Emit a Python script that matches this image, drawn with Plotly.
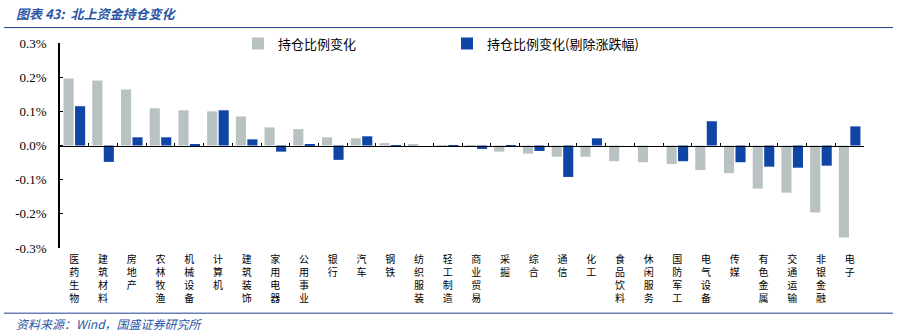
import plotly.graph_objects as go

categories = ["医药生物", "建筑材料", "房地产", "农林牧渔", "机械设备", "计算机", "建筑装饰",
              "家用电器", "公用事业", "银行", "汽车", "钢铁", "纺织服装", "轻工制造",
              "商业贸易", "采掘", "综合", "通信", "化工", "食品饮料", "休闲服务",
              "国防军工", "电气设备", "传媒", "有色金属", "交通运输", "非银金融", "电子"]
holding_change = [0.196, 0.190, 0.164, 0.109, 0.103, 0.100, 0.085, 0.053, 0.048, 0.024,
                  0.021, 0.007, 0.004, -0.004, -0.004, -0.018, -0.024, -0.033, -0.033,
                  -0.046, -0.049, -0.054, -0.072, -0.081, -0.126, -0.138, -0.196, -0.269]
holding_change_adj = [0.115, -0.048, 0.024, 0.024, 0.004, 0.103, 0.018, -0.018, 0.004, -0.042,
                      0.027, -0.004, 0.0, -0.004, -0.010, -0.004, -0.016, -0.092, 0.021,
                      0.0, 0.0, -0.046, 0.071, -0.049, -0.062, -0.065, -0.059, 0.056]
series_names = ["持仓比例变化", "持仓比例变化(剔除涨跌幅)"]
y_ticks = [-0.3, -0.2, -0.1, 0.0, 0.1, 0.2, 0.3]
title_text = "图表 43:  北上资金持仓变化"
source_text = "资料来源：Wind，国盛证券研究所"

W, H = 903, 336
L, R, T, B = 60, 39, 42.5, 87.5
pw, ph = W - L - R, H - T - B

def px_x(X):
    return (X - L) / pw

def px_y(Y):
    return (H - B - Y) / ph

cjk = "Noto Sans CJK SC"
tick_font = "Liberation Serif, Noto Sans CJK SC"
ticktext = ["<br>".join(list(c)) for c in categories]

fig = go.Figure()
fig.add_trace(go.Bar(x=categories, y=holding_change, name=series_names[0],
                     marker=dict(color="#b9c2c2", line=dict(width=0))))
fig.add_trace(go.Bar(x=categories, y=holding_change_adj, name=series_names[1],
                     marker=dict(color="#0f45a5", line=dict(width=0))))
# helper trace for the axis drawn at zero
fig.add_trace(go.Scatter(x=categories, y=[0] * len(categories), xaxis="x2", yaxis="y",
                         mode="markers", marker=dict(opacity=0), showlegend=False,
                         hoverinfo="skip"))

fig.update_layout(
    width=W, height=H,
    margin=dict(l=L, r=R, t=T, b=B),
    paper_bgcolor="white", plot_bgcolor="white",
    barmode="group", bargap=0.2, bargroupgap=0.12,
    font=dict(family=cjk, size=12, color="black"),
    showlegend=True,
    legend=dict(orientation="h", x=px_x(238), y=px_y(43), xanchor="left", yanchor="middle",
                font=dict(family=cjk, size=13, color="black"),
                bgcolor="rgba(0,0,0,0)", entrywidth=164, entrywidthmode="pixels",
                itemwidth=30, tracegroupgap=0),
    xaxis=dict(type="category", tickmode="array", tickvals=categories, ticktext=ticktext,
               showline=False, ticks="", showgrid=False, zeroline=False,
               tickfont=dict(family=tick_font, size=10, color="black"), tickangle=0,
               ticklabelstandoff=4),
    xaxis2=dict(type="category", overlaying="x", anchor="free", position=0.5,
                showline=True, linecolor="black", linewidth=1, ticks="inside",
                tickson="boundaries", ticklen=3, tickcolor="black", showticklabels=False,
                showgrid=False, zeroline=False, range=[-0.5, len(categories) - 0.5]),
    yaxis=dict(range=[-0.3, 0.3], tickmode="array", tickvals=y_ticks,
               ticktext=[f"{v:.1f}%" for v in y_ticks],
               tickfont=dict(family="Liberation Serif", size=13, color="black"),
               showline=True, linecolor="black", linewidth=1.5, ticks="inside", ticklen=3,
               tickcolor="black", showgrid=False, zeroline=False, ticklabelstandoff=9),
)
fig.update_xaxes(range=[-0.5, len(categories) - 0.5], selector=dict(anchor="y"))

fig.add_shape(type="line", xref="paper", yref="paper", x0=px_x(4), x1=px_x(893),
              y0=px_y(27), y1=px_y(27), line=dict(color="#1f3f8f", width=1))
fig.add_shape(type="line", xref="paper", yref="paper", x0=px_x(4), x1=px_x(893),
              y0=px_y(314), y1=px_y(314), line=dict(color="#1f3f8f", width=1))

fig.add_annotation(text=f"<b><i>{title_text}</i></b>", xref="paper", yref="paper",
                   x=px_x(14), y=px_y(13), xanchor="left", yanchor="middle", showarrow=False,
                   font=dict(family=cjk, size=13, color="#2a55a5"))
fig.add_annotation(text=f"<i>{source_text}</i>", xref="paper", yref="paper",
                   x=px_x(14), y=px_y(324), xanchor="left", yanchor="middle", showarrow=False,
                   font=dict(family=cjk, size=12, color="#2a55a5"))

fig.write_html("out.html")
